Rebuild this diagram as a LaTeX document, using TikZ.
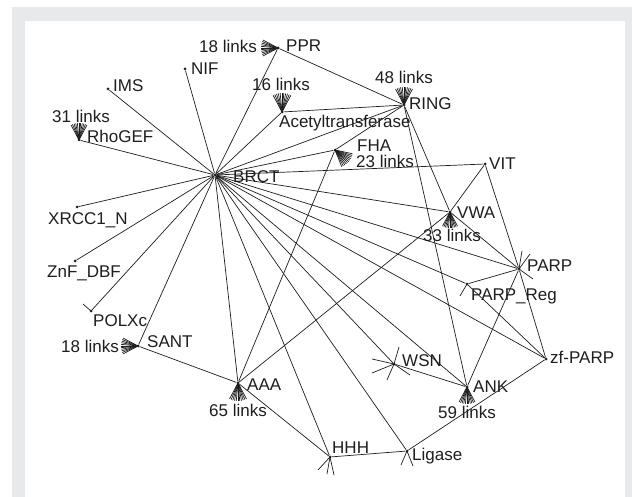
\documentclass[tikz,border=0pt]{standalone}
\usepackage{fontspec}
\setmainfont{Liberation Sans}
\usepackage{tikz}
\usetikzlibrary{positioning}

\definecolor{framegray}{HTML}{E8E9EB}
\definecolor{ink}{HTML}{1E1E1E}

\tikzset{
  dom/.style={circle, fill=ink, inner sep=0pt, minimum size=3pt},
  lbl/.style={anchor=base west, inner sep=0pt, text=ink,
              font=\fontsize{17}{19}\selectfont},
  edge/.style={draw=ink, line width=0.7pt}
}

% fan of short lines for links leaving the picture
\newcommand\linkfan[3]{%
  \foreach \k in {-1,-0.8,...,1.01}
    \draw[edge] (#1.center) -- ++(#2+\k*28:#3pt);
}

\begin{document}
\begin{tikzpicture}[x=1pt, y=-1pt]
  \useasboundingbox (0,0) rectangle (632,497);
  \fill[framegray] (12,7) rectangle (632,497);
  \fill[white] (25,21) rectangle (625,497);

  % domains
  \node[dom] (BRCT)   at (215,175) {};
  \node[dom] (PPR)    at (278,48)  {};
  \node[dom] (NIF)    at (185,69)  {};
  \node[dom] (IMS)    at (108,89)  {};
  \node[dom] (RhoGEF) at (79,140)  {};
  \node[dom] (Acetyl) at (282,112) {};
  \node[dom] (RING)   at (404,105) {};
  \node[dom] (FHA)    at (335,150) {};
  \node[dom] (VIT)    at (485,164) {};
  \node[dom] (XRCC)   at (77,207)  {};
  \node[dom] (VWA)    at (450,212) {};
  \node[dom] (ZnF)    at (75,261)  {};
  \node[dom] (PARP)   at (519,269) {};
  \node[dom] (PARPReg) at (467,284) {};
  \node[dom] (POLXc)  at (91,311)  {};
  \node[dom] (SANT)   at (138,346) {};
  \node[dom] (zfPARP) at (546,359) {};
  \node[dom] (WSN)    at (394,364) {};
  \node[dom] (AAA)    at (238,383) {};
  \node[dom] (ANK)    at (467,387) {};
  \node[dom] (HHH)    at (330,457) {};
  \node[dom] (Ligase) at (407,451) {};

  % names
  \node[lbl] (tPPR)    at (286,52)  {PPR};
  \node[lbl] (tNIF)    at (191,75)  {NIF};
  \node[lbl] (tIMS)    at (113,92)  {IMS};
  \node[lbl] (tRhoGEF) at (87,143)  {RhoGEF};
  \node[lbl] (tAcetyl) at (279,128) {Acetyltransferase};
  \node[lbl] (tRING)   at (409,110) {RING};
  \node[lbl] (tBRCT)   at (233,183) {BRCT};
  \node[lbl] (tFHA)    at (357,152) {FHA};
  \node[lbl] (tVIT)    at (489,170) {VIT};
  \node[lbl] (tXRCC)   at (48,225)  {XRCC1\_N};
  \node[lbl] (tVWA)    at (457,219) {VWA};
  \node[lbl] (tZnF)    at (47,277)  {ZnF\_DBF};
  \node[lbl] (tPARP)   at (527,272) {PARP};
  \node[lbl] (tPARPReg) at (471,300) {PARP\_Reg};
  \node[lbl] (tPOLXc)  at (93,326)  {POLXc};
  \node[lbl] (tSANT)   at (147,347) {SANT};
  \node[lbl] (tzfPARP) at (550,363) {zf-PARP};
  \node[lbl] (tWSN)    at (402,366) {WSN};
  \node[lbl] (tANK)    at (473,392) {ANK};
  \node[lbl] (tAAA)    at (247,390) {AAA};
  \node[lbl] (tHHH)    at (332,453) {HHH};
  \node[lbl] (tLigase) at (412,460) {Ligase};

  % link counts
  \node[lbl] (nPPR)    at (199,53)  {18 links};
  \node[lbl] (nRhoGEF) at (52,123)  {31 links};
  \node[lbl] (nAcetyl) at (252,91)  {16 links};
  \node[lbl] (nRING)   at (375,84)  {48 links};
  \node[lbl] (nFHA)    at (356,168) {23 links};
  \node[lbl] (nVWA)    at (423,242) {33 links};
  \node[lbl] (nSANT)   at (61,352)  {18 links};
  \node[lbl] (nANK)    at (438,418) {59 links};
  \node[lbl] (nAAA)    at (209,416) {65 links};

  % edges
  \foreach \a/\b in {BRCT/IMS, BRCT/NIF, BRCT/PPR, BRCT/Acetyl, BRCT/RING,
      BRCT/RhoGEF, BRCT/FHA, BRCT/VIT, BRCT/XRCC, BRCT/ZnF, BRCT/POLXc,
      BRCT/SANT, BRCT/AAA, BRCT/HHH, BRCT/Ligase, BRCT/WSN, BRCT/ANK,
      BRCT/zfPARP, BRCT/PARPReg, BRCT/PARP, BRCT/VWA,
      PPR/RING, Acetyl/RING, FHA/RING, RING/VWA, RING/ANK,
      FHA/AAA, VWA/AAA, SANT/AAA, AAA/HHH, HHH/Ligase, Ligase/zfPARP,
      VIT/VWA, VIT/PARP, VWA/PARP, PARP/ANK, PARP/PARPReg, PARP/zfPARP,
      PARPReg/zfPARP, WSN/ANK}
    \draw[edge] (\a) -- (\b);

  % links to domains not shown
  \linkfan{PPR}{180}{17}
  \linkfan{Acetyl}{90}{19}
  \linkfan{RING}{90}{18}
  \linkfan{RhoGEF}{90}{17}
  \linkfan{FHA}{-40}{18}
  \linkfan{VWA}{-90}{16}
  \linkfan{SANT}{180}{17}
  \linkfan{AAA}{-90}{18}
  \linkfan{ANK}{-90}{17}

  \foreach \n/\dx/\dy in {POLXc/-8/-7, PARPReg/-7/12,
      PARP/3/-18, PARP/11/-15, PARP/14/10,
      WSN/-22/-5, WSN/-22/9, WSN/5/-17, WSN/-7/16, WSN/16/11,
      HHH/-12/13, HHH/-3/17, HHH/4/18, Ligase/-6/14, Ligase/6/15}
    \draw[edge] (\n.center) -- ++(\dx,\dy);
\end{tikzpicture}
\end{document}
